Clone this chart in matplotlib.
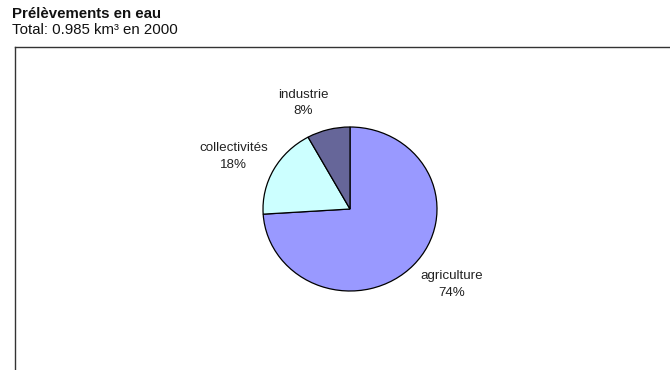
import matplotlib
matplotlib.use("Agg")
import matplotlib.pyplot as plt
from matplotlib.lines import Line2D

# ── Data ──────────────────────────────────────────────────────────────────────
categories = ["agriculture", "collectivités", "industrie"]
shares_pct = [74, 18, 8]
colors = ["#9999FF", "#CCFFFF", "#666699"]

TITLE = "Prélèvements en eau"
SUBTITLE = "Total: 0.985 km³ en 2000"

# label anchor positions (pie data coords, radius = 1)
label_xy = [(1.17, -0.92), (-1.34, 0.64), (-0.54, 1.29)]

plt.rcParams["font.family"] = ["Liberation Sans", "DejaVu Sans"]

W, H = 670, 370
fig = plt.figure(figsize=(W / 100, H / 100), dpi=100)
fig.patch.set_facecolor("white")

# pie area in pixels: centre (350, 209), rx 87, ry 82
cx, cy, rx, ry = 350, 209, 87, 82
ax = fig.add_axes([(cx - rx) / W, (H - cy - ry) / H, 2 * rx / W, 2 * ry / H])
wedges, _ = ax.pie(shares_pct, colors=colors, startangle=90, counterclock=False,
                   wedgeprops=dict(edgecolor="black", linewidth=0.9))
ax.set_aspect("auto")
ax.set_xlim(-1, 1)
ax.set_ylim(-1, 1)
ax.axis("off")

for name, pct, (lx, ly) in zip(categories, shares_pct, label_xy):
    ax.text(lx, ly, f"{name}\n{pct}%", ha="center", va="center",
            fontsize=9.6, color="#222222", linespacing=1.5, clip_on=False)

# outer chart frame (left and top edges visible)
fig.add_artist(Line2D([15 / W, 15 / W], [0, 1 - 47 / H], transform=fig.transFigure,
                      color="#333333", linewidth=1.0))
fig.add_artist(Line2D([15 / W, 1], [1 - 47 / H, 1 - 47 / H], transform=fig.transFigure,
                      color="#333333", linewidth=1.0))

fig.text(12 / W, 1 - 17.5 / H, TITLE, fontsize=10.8, fontweight="bold",
         ha="left", va="baseline", color="#111111")
fig.text(12 / W, 1 - 34.5 / H, SUBTITLE, fontsize=10.8,
         ha="left", va="baseline", color="#111111")

fig.savefig("out.png", dpi=100)
